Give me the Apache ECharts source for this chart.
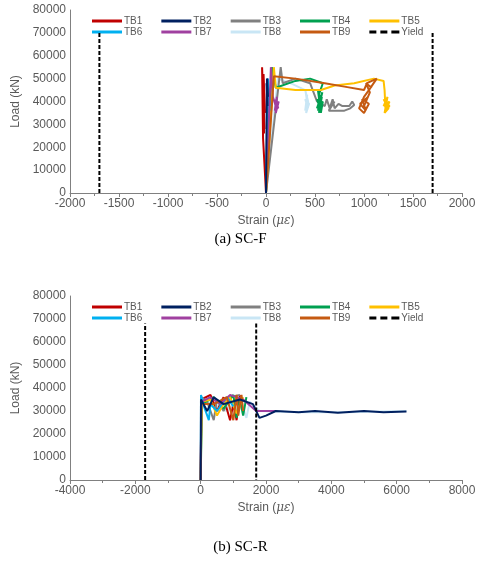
<!DOCTYPE html>
<html>
<head>
<meta charset="utf-8">
<script src="https://cdn.jsdelivr.net/npm/echarts@6/dist/echarts.min.js"></script>
<style>html,body{margin:0;padding:0;background:#fff}#c{width:481px;height:575px}</style>
</head>
<body>
<div id="c"></div>
<script>
var names = ['TB1', 'TB2', 'TB3', 'TB4', 'TB5', 'TB6', 'TB7', 'TB8', 'TB9', 'Yield'];
var colors = ['#C00000', '#002060', '#808080', '#00A050', '#FFC000', '#00B0F0', '#A040A0', '#C9E6F5', '#C55A11', '#000000'];

// (a) SC-F  [strain, load]
var scfTB1 = [[0,0],[-30,24000],[-40,55000],[-20,30000],[-35,50000],[-15,28000],[-30,45000],[-10,35000],[-25,52000],[-20,26000],[-35,48000]];
var scfTB2 = [[0,0],[10,50000],[15,38000],[5,48000],[20,42000],[12,50000]];
var scfTB3 = [[0,0],[150,55000],[170,48000],[300,50000],[450,48000],[520,40000],[600,38000],[620,41000],[650,37000],[680,41000],[700,37000],[740,39000],[780,38000],[850,38000],[880,40000],[900,38500],[860,37000],[800,36000],[700,36000],[640,36000],[700,40000]];
var scfTB4 = [[0,0],[60,55000],[100,46000],[300,49000],[450,50000],[580,48000],[540,43000],[560,36000],[520,41000],[570,38000],[530,45000],[560,35000],[580,40000],[520,37000],[575,44000],[530,36000],[570,42000],[540,35000]];
var scfTB5 = [[0,0],[80,55000],[100,46000],[300,45000],[560,45000],[700,47000],[900,48000],[1100,50000],[1200,49000],[1210,45000],[1220,36000],[1260,40000],[1200,38000],[1240,42000],[1210,35000],[1250,37000],[1200,41000],[1260,38000],[1215,36000]];
var scfTB6 = [[0,0],[20,50000],[30,35000],[10,48000],[40,38000],[25,46000],[35,40000],[15,44000],[40,36000]];
var scfTB7 = [[0,0],[50,55000],[70,42000],[100,38000],[120,40000],[90,36000],[110,42000],[100,35000],[130,40000],[95,38000],[125,37000],[100,41000]];
var scfTB8 = [[0,0],[120,50000],[250,48000],[400,45000],[430,40000],[400,36000],[420,43000],[410,35000],[440,39000],[400,41000],[430,37000],[405,44000]];
var scfTB9 = [[0,0],[80,51000],[300,50000],[600,48000],[800,46500],[1000,45000],[1030,48000],[1130,50000],[1050,45000],[1000,42000],[950,37000],[1000,35000],[1050,39000],[980,41000],[1020,36000],[960,39000],[1040,42000],[990,37000],[1060,44000],[1020,48000],[1080,46000]];
var scfYield = [[-1700,0],[-1700,70000],[null,null],[1700,70000],[1700,0]];

// (b) SC-R
var scrTB1 = [[0,0],[20,35000],[300,37000],[500,30000],[700,36000],[900,26000],[1000,33000],[1100,26000],[1200,37000]];
var scrTB2 = [[0,0],[10,35000],[200,30000],[400,36000],[700,33000],[1200,35000],[1600,33000],[1800,27000],[2000,28000],[2300,30000],[3000,29500],[3500,30000],[4200,29200],[5000,30000],[5600,29500],[6300,29800]];
var scrTB3 = [[0,0],[30,36000],[200,34000],[400,26000],[500,35000],[700,30000],[900,36000],[1200,37000]];
var scrTB4 = [[0,0],[40,33000],[400,36000],[700,31000],[1000,37000],[1100,27000],[1200,35000],[1300,28000],[1400,36000]];
var scrTB5 = [[0,0],[30,34000],[300,35000],[500,28000],[700,33000],[900,36000],[1100,29000],[1300,36000]];
var scrTB6 = [[0,0],[10,37000],[100,32000],[250,26000],[300,33000],[500,30000],[800,36000],[1000,32000]];
var scrTB7 = [[0,0],[20,34000],[300,36000],[600,33000],[900,37000],[1300,35000],[1700,30000],[2300,30000]];
var scrTB8 = [[0,0],[30,35000],[400,33000],[800,30000],[1200,36000],[1400,27000],[1500,34000],[1800,30000],[3000,29500],[4500,29500],[6300,30000]];
var scrTB9 = [[0,0],[20,33000],[400,33000],[800,36000],[1000,26000],[1100,37000],[1150,28000],[1250,37000],[1300,30000]];
var scrYield = [[-1700,0],[-1700,68000],[null,null],[1700,68000],[1700,0]];

var scf = [scfTB1, scfTB2, scfTB3, scfTB4, scfTB5, scfTB6, scfTB7, scfTB8, scfTB9, scfYield];
var scr = [scrTB1, scrTB2, scrTB3, scrTB4, scrTB5, scrTB6, scrTB7, scrTB8, scrTB9, scrYield];
var drawOrder = [7, 0, 2, 3, 4, 5, 6, 8, 1, 9];

var labelColor = '#595959';
var font = 'Arial, "Liberation Sans", sans-serif';
var dashIcon = 'path://M0,0h7v3h-7z M11,0h7v3h-7z M22,0h8v3h-8z';

function xAxis(i, min, max, interval) {
  return {
    gridIndex: i, type: 'value', min: min, max: max, interval: interval,
    name: '{n|Strain (}{g|με}{n|)}', nameLocation: 'middle', nameGap: 22,
    nameTextStyle: {rich: {n: {color: labelColor, fontSize: 12, fontFamily: font}, g: {color: labelColor, fontSize: 12, fontStyle: 'italic', fontFamily: 'DejaVu Serif'}}},
    axisLine: {onZero: false, lineStyle: {color: '#808080'}},
    axisTick: {show: true, length: 4, lineStyle: {color: '#808080'}},
    minorTick: {show: true, splitNumber: 2, length: 3, lineStyle: {color: '#808080'}},
    axisLabel: {color: labelColor, fontSize: 12, fontFamily: font, margin: 5, formatter: function (v) { return String(v); }},
    splitLine: {show: false}
  };
}
function yAxis(i) {
  return {
    gridIndex: i, type: 'value', min: 0, max: 80000, interval: 10000,
    name: 'Load (kN)', nameLocation: 'middle', nameGap: 47,
    nameTextStyle: {color: labelColor, fontSize: 12, fontFamily: font},
    axisLine: {show: true, onZero: false, lineStyle: {color: '#808080'}},
    axisTick: {show: false},
    axisLabel: {color: labelColor, fontSize: 12, fontFamily: font, margin: 4, formatter: function (v) { return String(v); }},
    splitLine: {show: false}
  };
}

var series = [];
[scf, scr].forEach(function (set, g) {
  drawOrder.forEach(function (k) {
    series.push({
      name: names[k], type: 'line', xAxisIndex: g, yAxisIndex: g,
      data: set[k], showSymbol: false, symbol: 'none', connectNulls: false,
      color: colors[k],
      lineStyle: {width: 2, color: colors[k], type: k === 9 ? [4, 2] : 'solid'},
      z: k === 9 ? 5 : 2
    });
  });
});

function legend(top, row) {
  var items = names.slice(row * 5, row * 5 + 5).map(function (n) {
    return n === 'Yield' ? {name: n, icon: dashIcon} : {name: n};
  });
  return {
    data: items, top: top, left: 92, itemGap: 19,
    itemWidth: 30, itemHeight: 3, icon: 'rect',
    textStyle: {color: labelColor, fontSize: 10, fontFamily: font, width: 22, padding: [0, 0, 0, -3]},
    padding: 0
  };
}

var chart = echarts.init(document.getElementById('c'));
chart.setOption({
  animation: false,
  grid: [
    {left: 70, top: 10, width: 392, height: 183},
    {left: 70, top: 296, width: 392, height: 184}
  ],
  xAxis: [xAxis(0, -2000, 2000, 500), xAxis(1, -4000, 8000, 2000)],
  yAxis: [yAxis(0), yAxis(1)],
  legend: [legend(16, 0), legend(27, 1), legend(302, 0), legend(313, 1)],
  series: series,
  graphic: [
    {type: 'text', left: 'center', top: 232, style: {text: '(a) SC-F', fontSize: 15, fontFamily: '"Liberation Serif", serif', fill: '#000'}},
    {type: 'text', left: 'center', top: 540, style: {text: '(b) SC-R', fontSize: 15, fontFamily: '"Liberation Serif", serif', fill: '#000'}}
  ]
});
</script>
</body>
</html>
